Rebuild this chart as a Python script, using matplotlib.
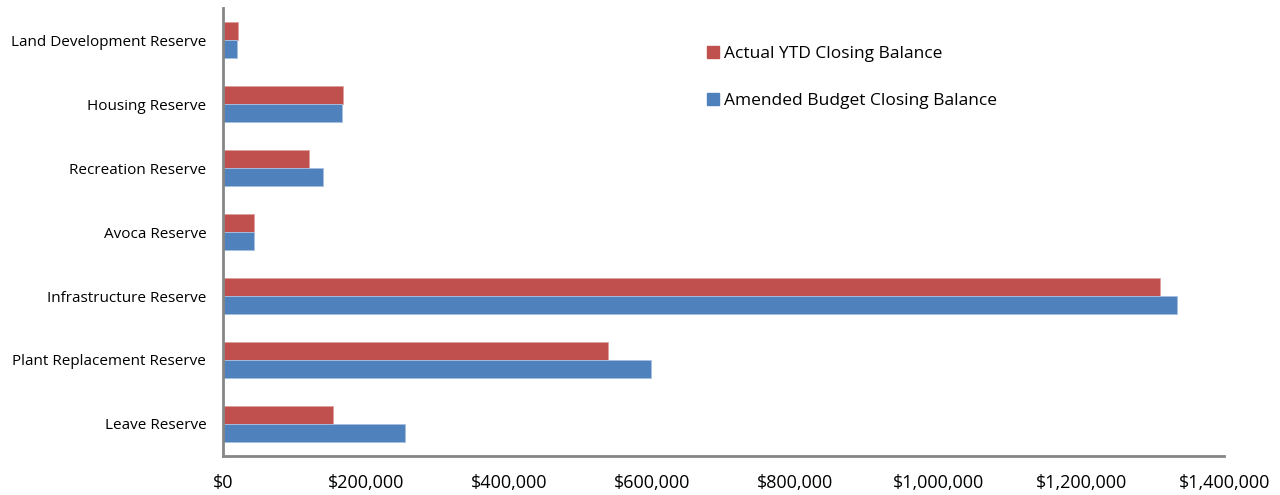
import matplotlib.pyplot as plt
from matplotlib.patches import Patch
from matplotlib.ticker import FuncFormatter
import numpy as np

# -----------------------------
# Data (top to bottom)
# -----------------------------
categories = ["Land Development Reserve", "Housing Reserve", "Recreation Reserve",
              "Avoca Reserve", "Infrastructure Reserve", "Plant Replacement Reserve",
              "Leave Reserve"]
actual_ytd = [20600, 167500, 120900, 43900, 1310000, 538000, 154500]
amended_budget = [20000, 166600, 140500, 43900, 1333700, 599200, 254300]

RED = "#C0504D"
BLUE = "#4F81BD"

plt.rcParams['font.family'] = ['Open Sans', 'DejaVu Sans']

fig = plt.figure(figsize=(12.8, 4.95), dpi=100)
ax = fig.add_axes([0.1742, 0.0788, 0.7821, 0.9050])

y = np.arange(len(categories))
h = 0.28
ax.barh(y - h / 2, actual_ytd, height=h, color=RED, edgecolor="#E0A09E", linewidth=0.6)
ax.barh(y + h / 2, amended_budget, height=h, color=BLUE, edgecolor="#A7C0DE", linewidth=0.6)

ax.set_ylim(len(categories) - 0.5, -0.5)
ax.set_xlim(0, 1400000)
ax.set_yticks(y)
ax.set_yticklabels(categories, fontsize=11)
ax.set_xticks(np.arange(0, 1400001, 200000))
ax.xaxis.set_major_formatter(FuncFormatter(lambda v, p: f"${v:,.0f}"))
ax.tick_params(axis='x', labelsize=13, length=0, pad=13)
ax.tick_params(axis='y', length=0, pad=12)

for s in ["top", "right"]:
    ax.spines[s].set_visible(False)
for s in ["left", "bottom"]:
    ax.spines[s].set_color("#868686")
    ax.spines[s].set_linewidth(2)

handles = [Patch(color=RED, label="Actual YTD Closing Balance"),
           Patch(color=BLUE, label="Amended Budget Closing Balance")]
ax.legend(handles=handles, loc="upper left", bbox_to_anchor=(0.483, 0.915),
          frameon=False, fontsize=12.5, handlelength=0.7, handleheight=0.7,
          handletextpad=0.3, labelspacing=1.75, borderpad=0, borderaxespad=0)

fig.savefig("out.png", dpi=100)
